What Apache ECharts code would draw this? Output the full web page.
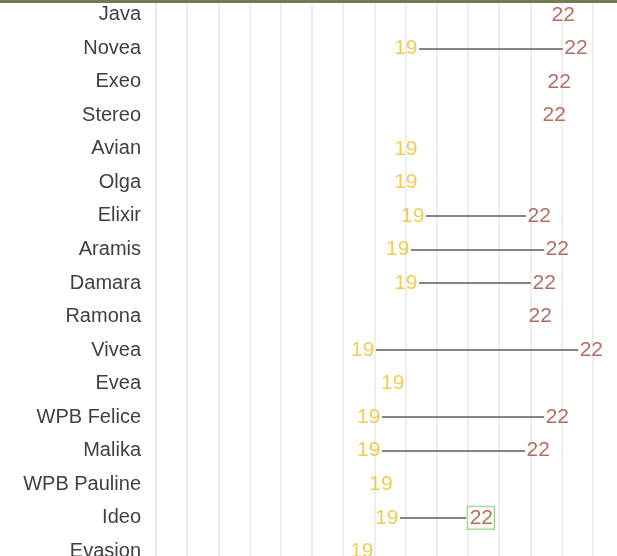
<!DOCTYPE html>
<html>
<head>
<meta charset="utf-8">
<script src="https://cdn.jsdelivr.net/npm/echarts@6/dist/echarts.min.js"></script>
<style>
  html, body { margin: 0; padding: 0; background: #fff; }
  #chart { width: 617px; height: 556px; }
</style>
</head>
<body>
<div id="chart"></div>
<script>
// rows, top to bottom
const categories = ['Java', 'Novea', 'Exeo', 'Stereo', 'Avian', 'Olga', 'Elixir', 'Aramis', 'Damara',
  'Ramona', 'Vivea', 'Evea', 'WPB Felice', 'Malika', 'WPB Pauline', 'Ideo', 'Evasion']
// position of the '19' point and the '22' point (null = no point)
const pos19 = [null, 84.3, null, null, 84.3, 84.3, 86.5, 81.7, 84.3, null, 70.5, 80.1, 72.4, 72.4, 76.3, 78.2, 70.2]
const pos22 = [126.3, 130.4, 125, 123.4, null, null, 118.6, 124.4, 120.2, 118.9, 135.3, null, 124.4, 118.3, null, 99.4, null]
const label19 = '19'
const label22 = '22'
const highlighted = 'Ideo'

const chart = echarts.init(document.getElementById('chart'))

const pts19 = []
const pts22 = []
const links = []
categories.forEach((c, i) => {
  if (pos19[i] != null) pts19.push([pos19[i], c])
  if (pos22[i] != null) {
    const item = { value: [pos22[i], c] }
    if (c === highlighted) {
      // boxed label
      item.label = { borderColor: '#7fbf6a', borderWidth: 1, padding: [1, 1, 0, 2], backgroundColor: '#fbfdf8' }
    }
    pts22.push(item)
  }
  if (pos19[i] != null && pos22[i] != null) {
    links.push({ coords: [[pos19[i], c], [pos22[i], c]] })
  }
})

const font = '"Liberation Sans", Arial, sans-serif'

chart.setOption({
  animation: false,
  // grid runs past the window on purpose: the reference is a crop
  grid: { left: 156, top: -2, width: 468, height: 570, containLabel: false, outerBoundsMode: 'none' },
  xAxis: {
    type: 'value',
    min: 0,
    max: 150,
    interval: 10,
    axisLabel: { show: false },
    axisTick: { show: false },
    axisLine: { show: false },
    splitLine: { lineStyle: { color: '#e9e9e9', width: 1.5 } }
  },
  yAxis: {
    type: 'category',
    data: categories,
    inverse: true,
    axisTick: { show: false },
    axisLine: { lineStyle: { color: '#e6e6e6', width: 1.5 } },
    axisLabel: { color: '#404040', fontSize: 20, fontFamily: font, margin: 15 },
    splitLine: { show: false }
  },
  graphic: [
    { type: 'rect', shape: { x: 0, y: 0, width: 617, height: 3 }, style: { fill: '#6e7d52' }, z: 100 }
  ],
  series: [
    {
      type: 'lines',
      coordinateSystem: 'cartesian2d',
      data: links,
      symbol: 'none',
      lineStyle: { color: '#858585', width: 1.8, opacity: 1 },
      z: 1
    },
    {
      name: label19,
      type: 'scatter',
      data: pts19,
      symbolSize: 1,
      itemStyle: { color: 'rgba(0,0,0,0)' },
      label: {
        show: true,
        position: 'left',
        distance: 1,
        formatter: label19,
        color: '#eebf2a',
        fontSize: 21,
        fontFamily: font
      },
      z: 3
    },
    {
      name: label22,
      type: 'scatter',
      data: pts22,
      symbolSize: 1,
      itemStyle: { color: 'rgba(0,0,0,0)' },
      label: {
        show: true,
        position: 'right',
        distance: 1,
        formatter: label22,
        color: '#a3473a',
        fontSize: 21,
        fontFamily: font
      },
      z: 3
    }
  ]
})
</script>
</body>
</html>
